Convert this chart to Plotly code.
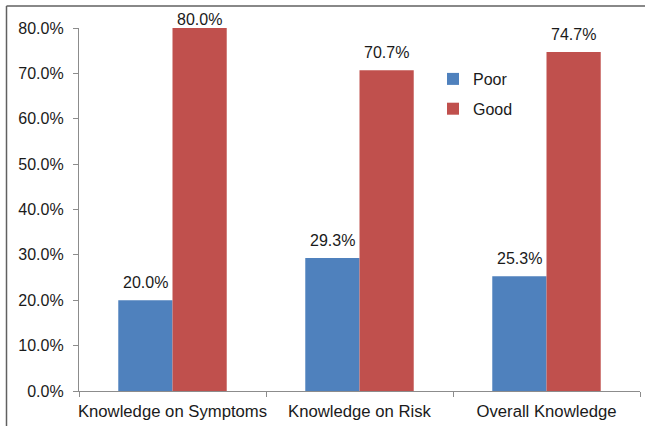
import plotly.graph_objects as go

categories = ["Knowledge on Symptoms", "Knowledge on Risk", "Overall Knowledge"]
poor = [20.0, 29.3, 25.3]
good = [80.0, 70.7, 74.7]
series_names = ["Poor", "Good"]
colors = ["#4F81BD", "#C0504D"]
y_ticks = [0, 10, 20, 30, 40, 50, 60, 70, 80]

FONT = "Liberation Sans, Arial, sans-serif"

fig = go.Figure()
for name, vals, col, grp in zip(series_names, [poor, good], colors, ["a", "b"]):
    fig.add_trace(go.Bar(x=categories, y=vals, name=name, marker_color=col,
                         marker_line_width=0, legendgroup=grp))

# value labels above bars (the top one is pushed down to stay inside the chart area)
annots = []
for vals, shift in [(poor, -27), (good, 27)]:
    for c, v in zip(categories, vals):
        annots.append(dict(x=c, y=v, text=f"{v:.1f}%", showarrow=False,
                           xref="x", yref="y", xshift=shift,
                           yshift=7 if v < 78 else -2,
                           yanchor="bottom", font=dict(size=16, color="#1a1a1a", family=FONT)))

L, T, R, B = 79, 28, 5, 35
W, H = 645, 426
pw, ph = W - L - R, H - T - B
fx = (6.5 - L) / pw
fy = (391 - 6) / ph

fig.update_layout(
    width=W, height=H,
    margin=dict(l=L, r=R, t=T, b=B, autoexpand=False),
    paper_bgcolor="white", plot_bgcolor="white",
    barmode="group", bargap=0.42, bargroupgap=0,
    font=dict(family=FONT, size=16, color="#1a1a1a"),
    showlegend=True,
    legend=dict(x=(433 - L) / pw, y=(391 - 62) / ph, xanchor="left", yanchor="top",
                bgcolor="rgba(0,0,0,0)", font=dict(size=16, family=FONT),
                tracegroupgap=6, itemwidth=30),
    annotations=annots,
    shapes=[
        dict(type="line", xref="paper", yref="paper", x0=fx, x1=1.0 + 5.0 / pw, y0=fy, y1=fy,
             line=dict(color="#606060", width=1.5), layer="below"),
        dict(type="line", xref="paper", yref="paper", x0=fx, x1=fx, y0=fy, y1=-35.0 / ph,
             line=dict(color="#606060", width=1.5), layer="below"),
    ],
    xaxis=dict(showline=True, linecolor="#8c8c8c", linewidth=1.2, ticks="outside",
               tickson="boundaries", ticklen=5, tickcolor="#8c8c8c", showgrid=False,
               tickangle=0, automargin=False, ticklabelstandoff=5,
               tickfont=dict(size=16.7, family=FONT, color="#1a1a1a")),
    yaxis=dict(range=[0, 80], tickvals=y_ticks, ticktext=[f"{t:.1f}%" for t in y_ticks],
               showline=True, linecolor="#8c8c8c", linewidth=1.2, ticks="outside",
               ticklen=5, tickcolor="#8c8c8c", showgrid=False, zeroline=False,
               ticklabelstandoff=6, automargin=False,
               tickfont=dict(size=16, family=FONT, color="#1a1a1a")),
)

fig.write_html("out.html")
